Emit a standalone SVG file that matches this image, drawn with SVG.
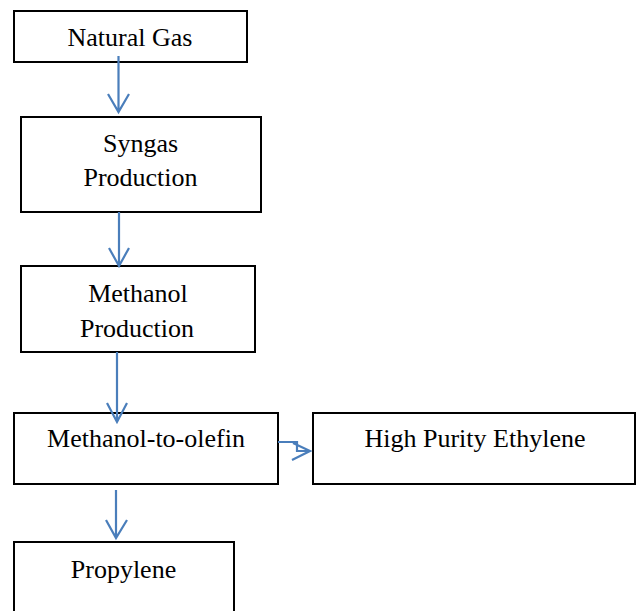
<svg xmlns="http://www.w3.org/2000/svg" width="636" height="611" viewBox="0 0 636 611">
<style>
.box{fill:#fff;stroke:#000;stroke-width:2}
.t{font-family:"Liberation Serif","Times New Roman",serif;font-size:26px;fill:#000;text-anchor:middle}
.c{fill:none;stroke:#4A7EBB;stroke-width:2.2;stroke-linejoin:miter}
</style>
<rect width="636" height="611" fill="#fff"/>
<g id="natural-gas"><rect class="box" x="14" y="11" width="233" height="51"/><text class="t" x="130" y="46">Natural Gas</text></g>
<g id="syngas"><rect class="box" x="21" y="117" width="240" height="95"/><text class="t" x="140.5" y="152">Syngas</text><text class="t" x="140.5" y="186">Production</text></g>
<g id="methanol"><rect class="box" x="21" y="266" width="234" height="86"/><text class="t" x="138" y="302">Methanol</text><text class="t" x="137" y="337">Production</text></g>
<g id="mto"><rect class="box" x="14" y="413" width="264" height="71"/><text class="t" x="146" y="447">Methanol-to-olefin</text></g>
<g id="hpe"><rect class="box" x="313" y="413" width="322" height="71"/><text class="t" x="475" y="447">High Purity Ethylene</text></g>
<g id="propylene"><rect class="box" x="14" y="542" width="220" height="80"/><text class="t" x="123.5" y="578">Propylene</text></g>
<g id="connectors">
<path class="c" d="M118.5 56V112M108 94L118.5 112L129 94"/>
<path class="c" d="M119 212V265M109 248L119 266L129 248"/>
<path class="c" d="M117 352V422M107 403L117 422L127 403"/>
<path class="c" d="M278 442H297V451H310M293 443L310 451L292 460"/>
<path class="c" d="M116 490V537M106 520L116 538L127 520"/>
</g>
</svg>
